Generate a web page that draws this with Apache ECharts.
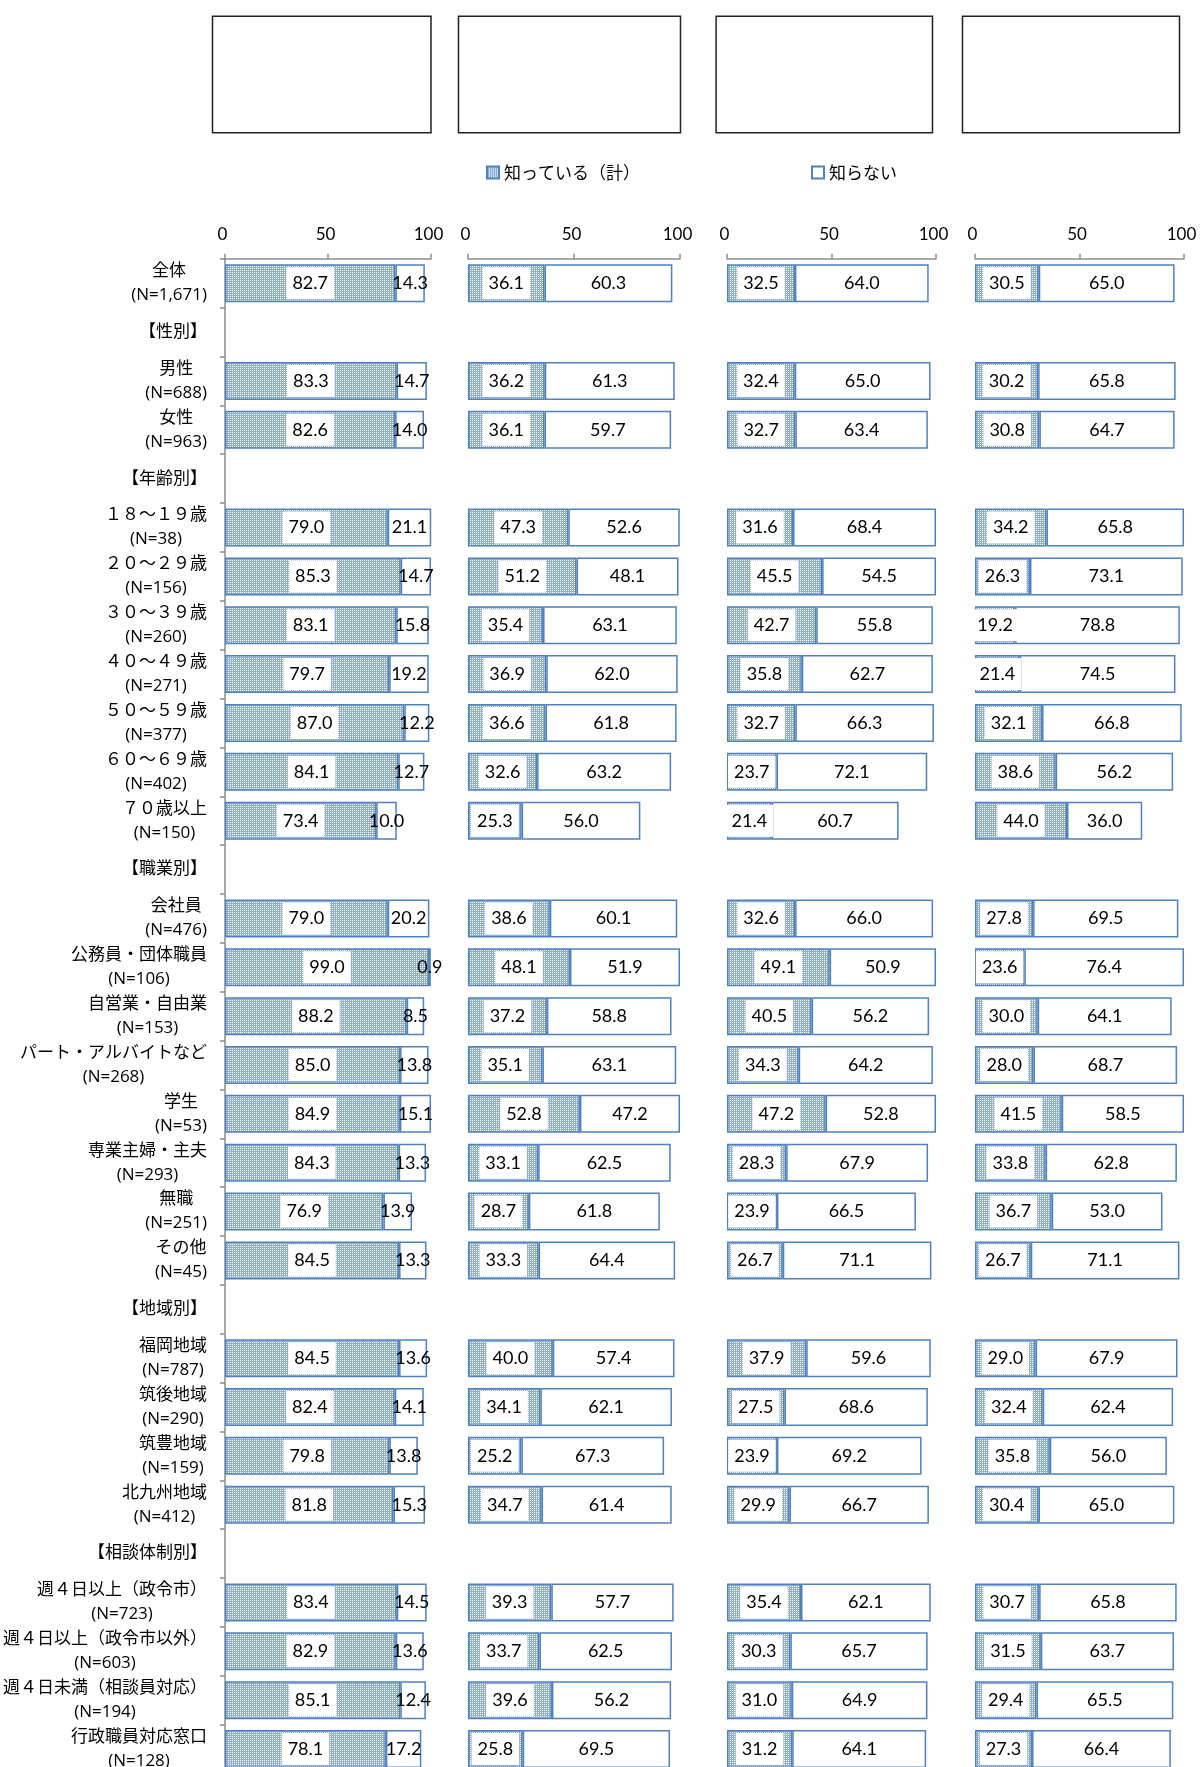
<!DOCTYPE html>
<html>
<head>
<meta charset="utf-8">
<script src="https://cdn.jsdelivr.net/npm/echarts@6/dist/echarts.min.js"></script>
<style>
  html, body { margin: 0; padding: 0; background: #fff; overflow: hidden; }
  #frame { width: 1204px; height: 1767px; overflow: hidden; position: relative; }
  #chart { width: 1204px; height: 1800px; }
</style>
</head>
<body>
<div id="frame"><div id="chart"></div></div>
<script>
// ---- data ----
const categories = [
  '全体\n(N=1,671)',
  '【性別】',
  '男性\n(N=688)',
  '女性\n(N=963)',
  '【年齢別】',
  '１８～１９歳\n(N=38)',
  '２０～２９歳\n(N=156)',
  '３０～３９歳\n(N=260)',
  '４０～４９歳\n(N=271)',
  '５０～５９歳\n(N=377)',
  '６０～６９歳\n(N=402)',
  '７０歳以上\n(N=150)',
  '【職業別】',
  '会社員\n(N=476)',
  '公務員・団体職員\n(N=106)',
  '自営業・自由業\n(N=153)',
  'パート・アルバイトなど\n(N=268)',
  '学生\n(N=53)',
  '専業主婦・主夫\n(N=293)',
  '無職\n(N=251)',
  'その他\n(N=45)',
  '【地域別】',
  '福岡地域\n(N=787)',
  '筑後地域\n(N=290)',
  '筑豊地域\n(N=159)',
  '北九州地域\n(N=412)',
  '【相談体制別】',
  '週４日以上（政令市）\n(N=723)',
  '週４日以上（政令市以外）\n(N=603)',
  '週４日未満（相談員対応）\n(N=194)',
  '行政職員対応窓口\n(N=128)'
];

const seriesNames = ['知っている（計）', '知らない'];

const panel1Known   = [82.7,'-',83.3,82.6,'-',79.0,85.3,83.1,79.7,87.0,84.1,73.4,'-',79.0,99.0,88.2,85.0,84.9,84.3,76.9,84.5,'-',84.5,82.4,79.8,81.8,'-',83.4,82.9,85.1,78.1];
const panel1Unknown = [14.3,'-',14.7,14.0,'-',21.1,14.7,15.8,19.2,12.2,12.7,10.0,'-',20.2,0.9,8.5,13.8,15.1,13.3,13.9,13.3,'-',13.6,14.1,13.8,15.3,'-',14.5,13.6,12.4,17.2];

const panel2Known   = [36.1,'-',36.2,36.1,'-',47.3,51.2,35.4,36.9,36.6,32.6,25.3,'-',38.6,48.1,37.2,35.1,52.8,33.1,28.7,33.3,'-',40.0,34.1,25.2,34.7,'-',39.3,33.7,39.6,25.8];
const panel2Unknown = [60.3,'-',61.3,59.7,'-',52.6,48.1,63.1,62.0,61.8,63.2,56.0,'-',60.1,51.9,58.8,63.1,47.2,62.5,61.8,64.4,'-',57.4,62.1,67.3,61.4,'-',57.7,62.5,56.2,69.5];

const panel3Known   = [32.5,'-',32.4,32.7,'-',31.6,45.5,42.7,35.8,32.7,23.7,21.4,'-',32.6,49.1,40.5,34.3,47.2,28.3,23.9,26.7,'-',37.9,27.5,23.9,29.9,'-',35.4,30.3,31.0,31.2];
const panel3Unknown = [64.0,'-',65.0,63.4,'-',68.4,54.5,55.8,62.7,66.3,72.1,60.7,'-',66.0,50.9,56.2,64.2,52.8,67.9,66.5,71.1,'-',59.6,68.6,69.2,66.7,'-',62.1,65.7,64.9,64.1];

const panel4Known   = [30.5,'-',30.2,30.8,'-',34.2,26.3,19.2,21.4,32.1,38.6,44.0,'-',27.8,23.6,30.0,28.0,41.5,33.8,36.7,26.7,'-',29.0,32.4,35.8,30.4,'-',30.7,31.5,29.4,27.3];
const panel4Unknown = [65.0,'-',65.8,64.7,'-',65.8,73.1,78.8,74.5,66.8,56.2,36.0,'-',69.5,76.4,64.1,68.7,58.5,62.8,53.0,71.1,'-',67.9,62.4,56.0,65.0,'-',65.8,63.7,65.5,66.4];

const valueTicks = [0, 50, 100];

// ---- layout / style ----
const panels = [
  { known: panel1Known, unknown: panel1Unknown, left: 221, width: 210 },
  { known: panel2Known, unknown: panel2Unknown, left: 468, width: 212 },
  { known: panel3Known, unknown: panel3Unknown, left: 727, width: 209 },
  { known: panel4Known, unknown: panel4Unknown, left: 975, width: 209 }
];
const gridTop = 258.8;
const rowPitch = 48.86;
const gridHeight = rowPitch * categories.length;

const BLUE = '#4f81bd';
const AXIS_GRAY = '#8c8c8c';
const NUM_FONT = 'Lato, "Liberation Sans", sans-serif';
const JP_FONT = '"Noto Sans CJK JP", "Noto Sans", sans-serif';
const LABEL_FONT = '"Open Sans", "Noto Sans CJK JP", sans-serif';

// fine dotted fill used for 知っている（計）
function dottedFill() {
  const c = document.createElement('canvas');
  c.width = 2; c.height = 2;
  const g = c.getContext('2d');
  g.fillStyle = '#8eadda';
  g.fillRect(0, 0, 2, 2);
  g.fillStyle = '#ffffff';
  g.fillRect(0, 0, 1, 1);
  return c;
}
const knownFill = { image: dottedFill(), repeat: 'repeat' };

const fmt = p => (typeof p.value === 'number' ? p.value.toFixed(1) : '');

const grids = [], xAxes = [], yAxes = [], series = [];
panels.forEach((p, i) => {
  grids.push({ left: p.left, width: p.width, top: gridTop, height: gridHeight });
  xAxes.push({
    type: 'value', gridIndex: i, position: 'top',
    min: valueTicks[0], max: valueTicks[valueTicks.length - 1],
    interval: valueTicks[1] - valueTicks[0],
    axisLine: { show: true, lineStyle: { color: AXIS_GRAY, width: 1.5 } },
    axisTick: { show: true, length: 5, lineStyle: { color: AXIS_GRAY, width: 1.5 } },
    splitLine: { show: false },
    axisLabel: { margin: 16, color: '#000', fontSize: 17, fontFamily: NUM_FONT, padding: [0, 5, 0, 0] }
  });
  yAxes.push({
    type: 'category', gridIndex: i, inverse: true, data: categories,
    show: i === 0,
    axisLine: { show: true, lineStyle: { color: AXIS_GRAY, width: 1.5 } },
    axisTick: { show: true, length: 5, lineStyle: { color: AXIS_GRAY, width: 1.5 } },
    axisLabel: {
      margin: 18,
      interval: 0,
      formatter: v => v.split('\n').map(s => '{c|' + s + '}').join('\n'),
      rich: {
        c: { align: 'center', fontSize: 17, lineHeight: 24, color: '#000', fontFamily: LABEL_FONT }
      }
    }
  });
  series.push({
    name: seriesNames[0], type: 'bar', stack: 'p' + i,
    xAxisIndex: i, yAxisIndex: i, barWidth: 38,
    data: p.known,
    itemStyle: { color: knownFill, borderColor: BLUE, borderWidth: 1.5 },
    label: {
      show: true, position: 'inside', formatter: fmt,
      color: '#000', fontSize: 18, fontFamily: NUM_FONT,
      backgroundColor: '#fff', padding: [7, 6, 7, 6]
    },
    emphasis: { disabled: true }
  });
  series.push({
    name: seriesNames[1], type: 'bar', stack: 'p' + i,
    xAxisIndex: i, yAxisIndex: i, barWidth: 38,
    data: p.unknown,
    itemStyle: { color: '#ffffff', borderColor: BLUE, borderWidth: 1.5 },
    label: {
      show: true, position: 'inside', formatter: fmt,
      color: '#000', fontSize: 18, fontFamily: NUM_FONT
    },
    emphasis: { disabled: true }
  });
});

// empty heading frames above each panel
const frames = [
  { x: 210, w: 218.5 }, { x: 456, w: 222 }, { x: 713.6, w: 216.4 }, { x: 960, w: 217 }
].map(f => ({
  type: 'rect', left: f.x, top: 13.7, silent: true,
  shape: { width: f.w, height: 116.6 },
  style: { fill: 'none', stroke: '#222', lineWidth: 1.5 }
}));

const chart = echarts.init(document.getElementById('chart'), null, { renderer: 'canvas' });
chart.setOption({
  animation: false,
  backgroundColor: '#fff',
  legend: {
    data: seriesNames,
    left: 486, top: 164, padding: 0,
    itemWidth: 12, itemHeight: 12, itemGap: 171,
    icon: 'rect',
    textStyle: { fontSize: 17, color: '#000', fontFamily: JP_FONT },
    selectedMode: false
  },
  grid: grids,
  xAxis: xAxes,
  yAxis: yAxes,
  series: series,
  graphic: frames
});
</script>
</body>
</html>
